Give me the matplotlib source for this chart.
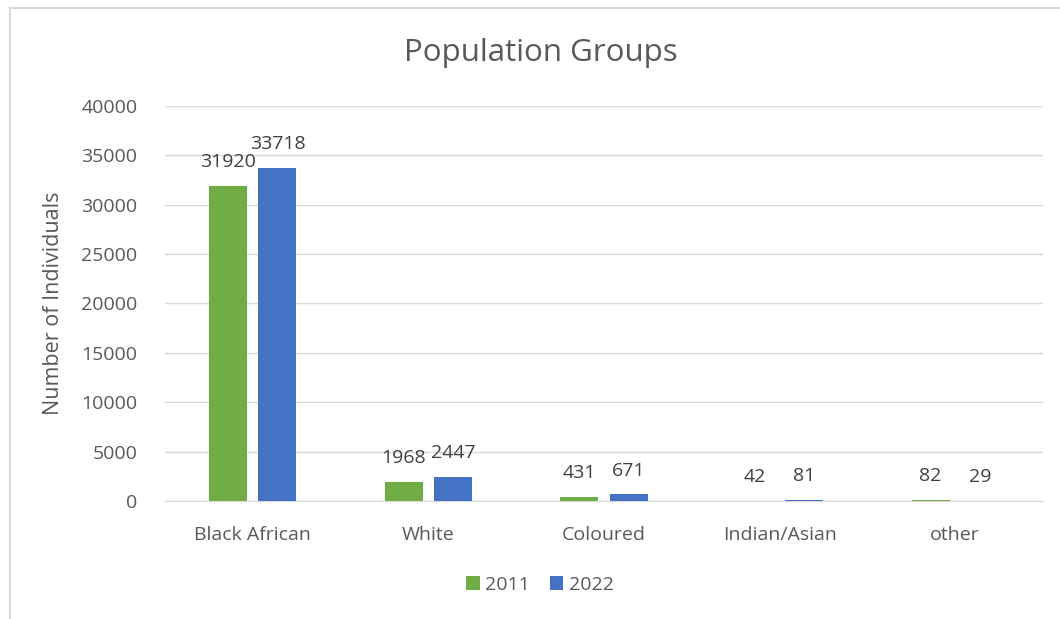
import matplotlib.pyplot as plt
import numpy as np
from matplotlib.lines import Line2D

categories = ["Black African", "White", "Coloured", "Indian/Asian", "other"]
values_2011 = [31920, 1968, 431, 42, 82]
values_2022 = [33718, 2447, 671, 81, 29]
yticks = [0, 5000, 10000, 15000, 20000, 25000, 30000, 35000, 40000]

green = "#70AD47"
blue = "#4472C4"
txt = "#595959"

plt.rcParams['font.family'] = ['Open Sans', 'DejaVu Sans']

fig = plt.figure(figsize=(10.6, 6.19), dpi=100)
ax = fig.add_axes([0.1557, 0.1907, 0.8283, 0.6381])

# chart border (cropped on right and bottom)
fig.add_artist(Line2D([10/1060, 10/1060], [-0.1, 1 - 8/619], transform=fig.transFigure,
                      color="#d9d9d9", lw=1.5))
fig.add_artist(Line2D([10/1060, 1.1], [1 - 8/619, 1 - 8/619], transform=fig.transFigure,
                      color="#d9d9d9", lw=1.5))

x = np.arange(len(categories))
w = 0.216
off = 0.14
b1 = ax.bar(x - off, values_2011, w, color=green, label="2011", zorder=3)
b2 = ax.bar(x + off, values_2022, w, color=blue, label="2022", zorder=3)

for bars, vals in ((b1, values_2011), (b2, values_2022)):
    for bar, v in zip(bars, vals):
        ax.text(bar.get_x() + bar.get_width() / 2, v + 1500, str(v),
                ha="center", va="bottom", fontsize=14, color="#404040")

ax.set_xlim(-0.5, len(categories) - 0.5)
ax.set_ylim(0, 40000)
ax.set_yticks(yticks)
ax.set_yticklabels([str(t) for t in yticks])
ax.set_xticks(x)
ax.set_xticklabels(categories)
ax.tick_params(axis="both", length=0, labelsize=14, colors=txt)
ax.tick_params(axis="y", pad=20)
ax.tick_params(axis="x", pad=18)
ax.grid(axis="y", color="#d9d9d9", lw=1, zorder=0)
for s in ["top", "right", "left"]:
    ax.spines[s].set_visible(False)
ax.spines["bottom"].set_color("#d9d9d9")

ax.set_ylabel("Number of Individuals", fontsize=15.5, color=txt, labelpad=12)
fig.text(541/1060, 1 - 53/619, "Population Groups", ha="center", va="center",
         fontsize=22.5, color=txt)

fig.legend(handles=[b1, b2], labels=["2011", "2022"], loc="center",
           bbox_to_anchor=(540/1060, 1 - 585/619), ncol=2, frameon=False,
           fontsize=14, labelcolor=txt, handlelength=0.7, handleheight=0.7,
           handletextpad=0.3, columnspacing=1.0)

fig.savefig("out.png", dpi=100)
